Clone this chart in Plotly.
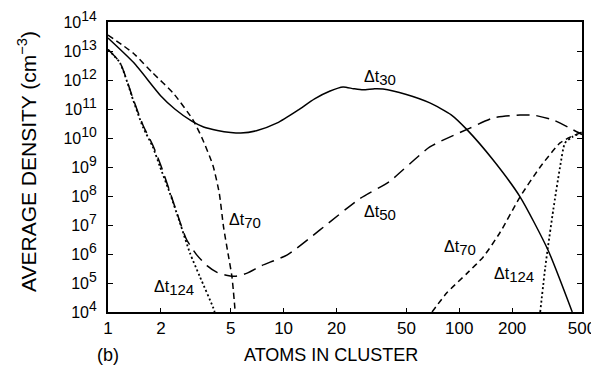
import plotly.graph_objects as go

# ---- data (x: atoms in cluster, y: log10 of average density in cm^-3) ----
dt30_x = [1.0, 1.4, 2.0, 2.4, 3.0, 3.5, 4.2, 5.0, 5.7, 7.0, 9.2, 12, 15, 18.4, 21.8, 25, 28.3, 33, 36.8, 50, 68, 90, 111, 156, 222, 320, 440]
dt30_logy = [13.45, 12.6, 11.45, 11.0, 10.58, 10.38, 10.26, 10.19, 10.17, 10.25, 10.52, 10.95, 11.35, 11.62, 11.76, 11.7, 11.66, 11.7, 11.69, 11.5, 11.21, 10.8, 10.28, 9.24, 7.97, 6.14, 4.0]

dt50_x = [1.0, 1.17, 1.39, 1.58, 1.8, 2.0, 2.25, 2.57, 2.8, 3.2, 3.66, 4.2, 4.8, 5.3, 6.2, 7.5, 10.5, 16.1, 27, 40, 68, 115, 156, 222, 264, 343, 445, 500]
dt50_logy = [13.05, 12.6, 11.35, 10.45, 9.75, 9.05, 8.15, 7.1, 6.5, 5.97, 5.6, 5.36, 5.26, 5.23, 5.34, 5.6, 5.97, 6.83, 7.9, 8.5, 9.69, 10.34, 10.69, 10.79, 10.79, 10.62, 10.28, 10.12]

dt70a_x = [1.0, 1.39, 1.8, 2.35, 3.05, 3.47, 3.96, 4.3, 4.55, 4.82, 5.08, 5.3]
dt70a_logy = [13.55, 12.93, 12.24, 11.55, 10.62, 9.93, 9.05, 8.1, 6.93, 6.03, 5.21, 4.0]
dt70b_x = [70, 85, 111, 137, 171, 222, 289, 375, 428, 500]
dt70b_logy = [4.0, 4.66, 5.34, 5.9, 6.75, 7.97, 9.0, 9.83, 10.03, 10.2]

dt124a_x = [1.0, 1.17, 1.39, 1.58, 1.8, 1.98, 2.25, 2.57, 2.93, 3.34, 3.96, 4.05]
dt124a_logy = [13.05, 12.59, 11.31, 10.38, 9.69, 9.0, 8.1, 7.07, 6.03, 5.21, 4.17, 4.0]
dt124b_x = [289, 309, 320, 343, 375, 400, 438, 500]
dt124b_logy = [4.0, 5.55, 6.24, 7.52, 9.0, 9.83, 10.03, 10.2]

x_tick_vals = [1, 2, 5, 10, 20, 50, 100, 200, 500]
y_tick_exps = [4, 5, 6, 7, 8, 9, 10, 11, 12, 13, 14]

# curve labels: (subscript, log10 x of left edge, log10 y of centre)
labels = [
    ("30", 1.446, 12.07),
    ("70", 0.678, 7.14),
    ("124", 0.251, 4.83),
    ("50", 1.446, 7.41),
    ("70", 1.902, 6.21),
    ("124", 2.187, 5.28),
]

FONT = "Liberation Sans, Arial, Helvetica, sans-serif"


def dens(vals):
    return [10 ** v for v in vals]


fig = go.Figure()
line_kw = dict(color="black", width=1.5)
fig.add_trace(go.Scatter(x=dt30_x, y=dens(dt30_logy), mode="lines",
                         line=dict(**line_kw, dash="solid", shape="spline", smoothing=0.6)))
fig.add_trace(go.Scatter(x=dt50_x, y=dens(dt50_logy), mode="lines",
                         line=dict(**line_kw, dash="13px,7px", shape="spline", smoothing=0.6)))
for xs, ys in [(dt70a_x, dt70a_logy), (dt70b_x, dt70b_logy)]:
    fig.add_trace(go.Scatter(x=xs, y=dens(ys), mode="lines",
                             line=dict(**line_kw, dash="6px,4px", shape="spline", smoothing=0.6)))
for xs, ys in [(dt124a_x, dt124a_logy), (dt124b_x, dt124b_logy)]:
    fig.add_trace(go.Scatter(x=xs, y=dens(ys), mode="lines",
                             line=dict(color="black", width=1.8, dash="2px,2.5px", shape="spline", smoothing=0.6)))

for sub, lx, ly in labels:
    fig.add_annotation(x=lx, y=ly, xref="x", yref="y", showarrow=False,
                       xanchor="left", yanchor="middle",
                       text="Δt<sub><span style='font-size:15px'>" + sub + "</span></sub>",
                       font=dict(family=FONT, size=16, color="black"))

# axis titles and panel tag
fig.add_annotation(x=0, y=0.5, xref="paper", yref="paper", xshift=-81, yshift=5,
                   textangle=-90, showarrow=False, xanchor="center", yanchor="middle",
                   text="AVERAGE DENSITY (cm<sup>−3</sup>)",
                   font=dict(family=FONT, size=21, color="black"))
fig.add_annotation(x=0.47, y=0, xref="paper", yref="paper", yshift=-43,
                   showarrow=False, xanchor="center", yanchor="middle",
                   text="ATOMS IN CLUSTER", font=dict(family=FONT, size=18, color="black"))
fig.add_annotation(x=0, y=0, xref="paper", yref="paper", yshift=-43, xshift=0,
                   showarrow=False, xanchor="center", yanchor="middle",
                   text="(b)", font=dict(family=FONT, size=18, color="black"))

# the page body adds an 8px offset, so the figure is 8px smaller and margins shifted
fig.update_layout(
    width=591, height=358,
    margin=dict(l=100, r=17, t=14, b=54, autoexpand=False),
    paper_bgcolor="white", plot_bgcolor="white",
    showlegend=False,
)
fig.update_xaxes(type="log", range=[0, 2.69897], showgrid=False, zeroline=False,
                 automargin=False,
                 showline=True, linecolor="black", linewidth=2, mirror=True,
                 ticks="inside", ticklen=4, tickcolor="black", tickwidth=1.2,
                 tickvals=x_tick_vals, ticktext=[str(v) for v in x_tick_vals],
                 ticklabeloverflow="allow",
                 tickfont=dict(family=FONT, size=17, color="black"))
fig.update_yaxes(type="log", range=[4, 14], showgrid=False, zeroline=False,
                 automargin=False,
                 showline=True, linecolor="black", linewidth=2, mirror="ticks",
                 ticks="inside", ticklen=5, tickcolor="black", tickwidth=1.2,
                 tickvals=[10 ** e for e in y_tick_exps],
                 ticktext=["10<sup><span style='font-size:14px'>%d</span></sup>" % e for e in y_tick_exps],
                 ticklabelstandoff=6, ticklabeloverflow="allow",
                 tickfont=dict(family=FONT, size=16, color="black"))

fig.write_html("out.html")
